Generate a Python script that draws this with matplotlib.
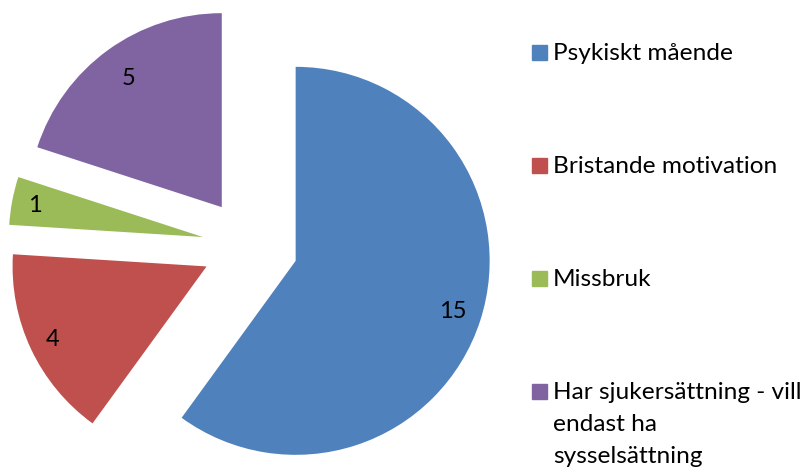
import numpy as np
import matplotlib.pyplot as plt
from matplotlib.patches import Rectangle

Categories = ['Psykiskt mående', 'Bristande motivation', 'Missbruk',
              'Har sjukersättning - vill\nendast ha\nsysselsättning']
Values = [15, 4, 1, 5]
Colors = ['#4F81BD', '#C0504D', '#9BBB59', '#8064A2']

W, H = 805, 469
plt.rcParams['font.family'] = ['Lato', 'DejaVu Sans']

fig = plt.figure(figsize=(W / 100, H / 100), dpi=100)
ax = fig.add_axes([0, 0, 1, 1])

# pie centre at pixel (250, 246), radius 194 px
R = 194.0
cx, cy = 250.0, 246.0
explode = [48 / R] * len(Values)
wedges, texts = ax.pie(Values, colors=Colors, startangle=90, counterclock=False,
                       explode=explode, radius=1, wedgeprops=dict(linewidth=0))

# value labels near the outer edge of each slice
LabelDist = [0.85, 0.88, 0.88, 0.82]
for w, v, d in zip(wedges, Values, LabelDist):
    ang = np.deg2rad((w.theta1 + w.theta2) / 2)
    x = w.center[0] + d * np.cos(ang)
    y = w.center[1] + d * np.sin(ang)
    ax.text(x, y, str(v), ha='center', va='center', fontsize=17)

ax.set_aspect('auto')
ax.set_xlim(-cx / R, (W - cx) / R)
ax.set_ylim(-(H - cy) / R, cy / R)
ax.axis('off')

# legend drawn by hand
Baselines = [60, 173, 286, 399]
LineGap = 32
for cat, col, base in zip(Categories, Colors, Baselines):
    fig.patches.append(Rectangle((532 / W, 1 - base / H), 15 / W, 15 / H,
                                 transform=fig.transFigure, color=col))
    for i, line in enumerate(cat.split('\n')):
        fig.text(553 / W, 1 - (base + i * LineGap) / H, line,
                 ha='left', va='baseline', fontsize=17.6)

fig.savefig('out.png', dpi=100)
